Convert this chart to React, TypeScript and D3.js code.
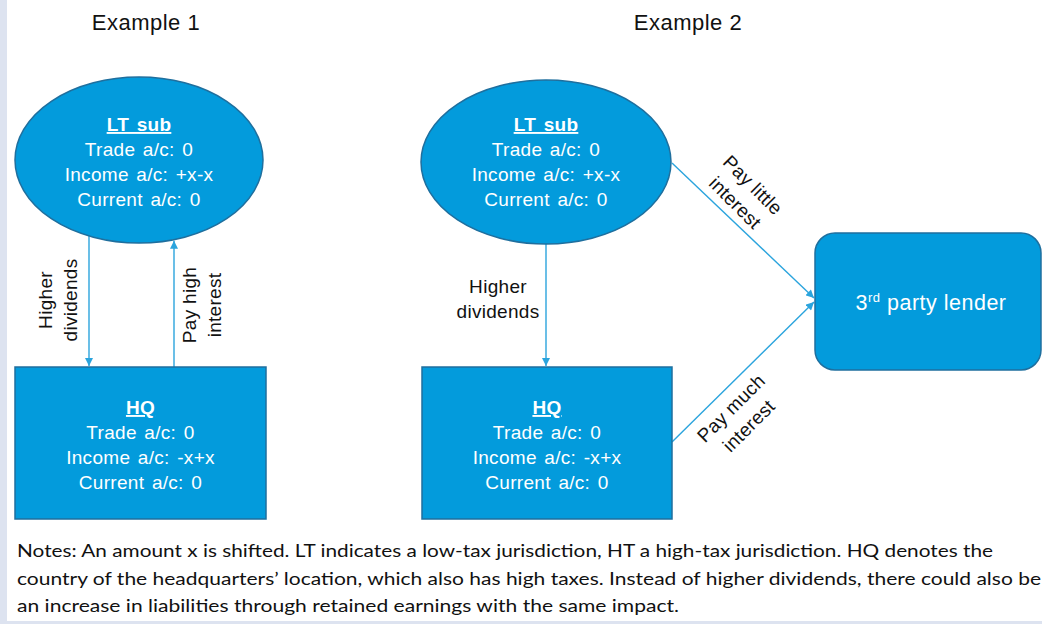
import React from "react";
import * as d3 from "d3";

// ---- content ----
const exampleTitles = ["Example 1", "Example 2"];
const ltSubLines = ["LT sub", "Trade a/c: 0", "Income a/c: +x-x", "Current a/c: 0"];
const hqLines = ["HQ", "Trade a/c: 0", "Income a/c: -x+x", "Current a/c: 0"];
const lenderLabel = ["3", "rd", " party lender"];
const ex1DownLabel = ["Higher", "dividends"];
const ex1UpLabel = ["Pay high", "interest"];
const ex2DownLabel = ["Higher", "dividends"];
const ex2LittleLabel = ["Pay little", "interest"];
const ex2MuchLabel = ["Pay much", "interest"];
const noteLines = [
  "Notes: An amount x is shifted. LT indicates a low-tax jurisdiction, HT a high-tax jurisdiction. HQ denotes the",
  "country of the headquarters\u2019 location, which also has high taxes. Instead of higher dividends, there could also be",
  "an increase in liabilities through retained earnings with the same impact.",
];

// ---- layout ----
const W = 1042;
const H = 624;
const FILL = "#039bdc";
const STROKE = "#1f6f9e";
const ARROW = "#2ba4dd";
const NODE_FONT = "'Liberation Sans', Arial, sans-serif";

const ell1 = { cx: 139, cy: 160, rx: 124, ry: 83 };
const ell2 = { cx: 546, cy: 162, rx: 125, ry: 82 };
const box1 = { x: 15, y: 367, w: 251, h: 152 };
const box2 = { x: 422, y: 367, w: 250, h: 152 };
const lender = { x: 815, y: 233, w: 226, h: 137, r: 20 };

const ellY = (e: typeof ell1, x: number) =>
  e.cy + e.ry * Math.sqrt(1 - ((x - e.cx) / e.rx) ** 2);

const lineGen = d3.line<[number, number]>();

function NodeText({ lines, cx, y0 }: { lines: string[]; cx: number; y0: number }) {
  return (
    <g fontFamily={NODE_FONT} fontSize={19} fill="#ffffff" textAnchor="middle" letterSpacing={0.3} wordSpacing={2}>
      {lines.map((t, i) => (
        <text
          key={i}
          x={cx}
          y={y0 + i * 25}
          fontWeight={i === 0 ? "bold" : "normal"}
          textDecoration={i === 0 ? "underline" : undefined}
        >
          {t}
        </text>
      ))}
    </g>
  );
}

function MultiLabel({
  lines,
  x,
  y,
  rotate,
}: {
  lines: string[];
  x: number;
  y: number;
  rotate: number;
}) {
  const n = lines.length;
  return (
    <g transform={`translate(${x},${y}) rotate(${rotate})`} fontFamily={NODE_FONT} fontSize={19} fill="#111" textAnchor="middle" letterSpacing={0.3}>
      {lines.map((t, i) => (
        <text key={i} x={0} y={(i - (n - 1) / 2) * 25 + 6.5}>
          {t}
        </text>
      ))}
    </g>
  );
}

export default function App() {
  const arrows: [number, number][][] = [
    [[89, ellY(ell1, 89)], [89, box1.y - 1]],
    [[174, box1.y], [174, ellY(ell1, 174) + 1]],
    [[546, ell2.cy + ell2.ry], [546, box2.y - 1]],
    [[ell2.cx + ell2.rx + 1, 163], [lender.x - 1, 298]],
    [[box2.x + box2.w, 442], [lender.x - 1, 302]],
  ];

  return (
    <svg
      width={W}
      height={H}
      style={{ position: "absolute", left: 0, top: 0, background: "#ffffff" }}
    >
      <defs>
        <marker
          id="ah"
          markerUnits="userSpaceOnUse"
          viewBox="0 0 10 10"
          refX={10}
          refY={5}
          markerWidth={9}
          markerHeight={8}
          orient="auto"
        >
          <path d="M0,0 L10,5 L0,10 Z" fill={ARROW} />
        </marker>
      </defs>

      {/* frame strips */}
      <rect x={0} y={0} width={7} height={H} fill="#dde3f0" />
      <rect x={0} y={621} width={W} height={3} fill="#dde3f0" />

      {/* titles */}
      {exampleTitles.map((t, i) => (
        <text
          key={t}
          x={i === 0 ? 146 : 688}
          y={30}
          textAnchor="middle"
          fontFamily={NODE_FONT}
          fontSize={22}
          letterSpacing={0.5}
          fill="#111"
        >
          {t}
        </text>
      ))}

      {/* arrows */}
      {arrows.map((pts, i) => (
        <path
          key={i}
          d={lineGen(pts) || ""}
          stroke={ARROW}
          strokeWidth={1.4}
          fill="none"
          markerEnd="url(#ah)"
        />
      ))}

      {/* shapes */}
      <ellipse {...ell1} fill={FILL} stroke={STROKE} strokeWidth={1.5} />
      <ellipse {...ell2} fill={FILL} stroke={STROKE} strokeWidth={1.5} />
      <rect x={box1.x} y={box1.y} width={box1.w} height={box1.h} fill={FILL} stroke={STROKE} strokeWidth={1.5} />
      <rect x={box2.x} y={box2.y} width={box2.w} height={box2.h} fill={FILL} stroke={STROKE} strokeWidth={1.5} />
      <rect
        x={lender.x}
        y={lender.y}
        width={lender.w}
        height={lender.h}
        rx={lender.r}
        fill={FILL}
        stroke={STROKE}
        strokeWidth={1.5}
      />

      {/* node text */}
      <NodeText lines={ltSubLines} cx={ell1.cx} y0={131} />
      <NodeText lines={ltSubLines} cx={ell2.cx} y0={131} />
      <NodeText lines={hqLines} cx={box1.x + box1.w / 2} y0={414} />
      <NodeText lines={hqLines} cx={box2.x + box2.w / 2} y0={414} />
      <text x={931} y={310} textAnchor="middle" fontFamily={NODE_FONT} fontSize={21.5} fill="#fff" letterSpacing={0.5}>
        {lenderLabel[0]}
        <tspan fontSize={13} dy={-8}>{lenderLabel[1]}</tspan>
        <tspan dy={8}>{lenderLabel[2]}</tspan>
      </text>

      {/* arrow labels */}
      <MultiLabel lines={ex1DownLabel} x={58} y={300} rotate={-90} />
      <MultiLabel lines={ex1UpLabel} x={202} y={305} rotate={-90} />
      <MultiLabel lines={ex2DownLabel} x={498} y={299} rotate={0} />
      <MultiLabel lines={ex2LittleLabel} x={744} y={194} rotate={45} />
      <MultiLabel lines={ex2MuchLabel} x={740} y={417} rotate={-45} />

      {/* notes */}
      <g fontFamily="Lato, 'Open Sans', sans-serif" fontSize={18} fill="#111">
        {noteLines.map((t, i) => (
          <text
            key={i}
            x={17}
            y={557 + i * 27.5}
            textLength={[976, 1024, 662][i]}
            lengthAdjust="spacingAndGlyphs"
          >
            {t}
          </text>
        ))}
      </g>
    </svg>
  );
}
